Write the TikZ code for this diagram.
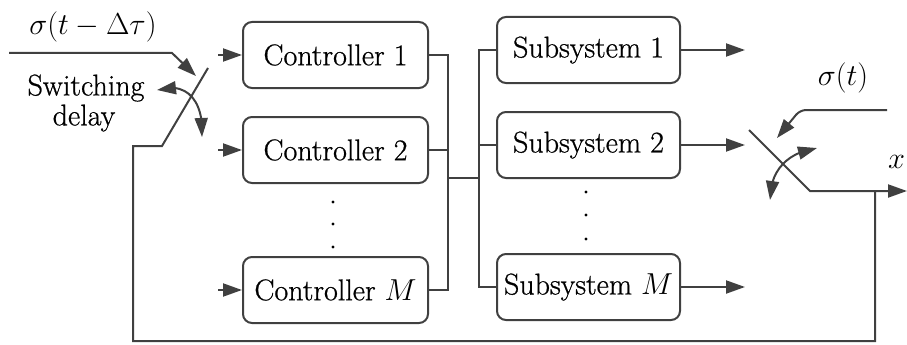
\documentclass[tikz,border=0pt]{standalone}
\usepackage{graphicx}
\usepackage{fontspec}
\setmainfont{Latin Modern Roman}[FakeBold=0.7]
\usetikzlibrary{arrows.meta,bending}
\definecolor{lc}{HTML}{404040}
\newcommand{\bigmath}[1]{\scalebox{1.22}{$#1$}}
\begin{document}
\begin{tikzpicture}[x=1pt,y=-1pt,
  blk/.style={draw=lc, line width=2pt, rounded corners=9pt, minimum width=185pt,
    minimum height=66pt, inner sep=0pt, font=\fontsize{30}{33}\selectfont},
  wire/.style={draw=lc, line width=2pt},
  arr/.style={wire, -{Triangle[length=19pt,width=13pt]}},
  darr/.style={wire, {Triangle[length=19pt,width=13pt,flex]}-{Triangle[length=19pt,width=13pt,flex]}},
  lbl/.style={inner sep=0pt, font=\fontsize{30}{33}\selectfont},
  mlbl/.style={inner sep=0pt, font=\fontsize{24.88}{28}\selectfont},
  dot/.style={fill=black, circle, inner sep=0pt, minimum size=3.4pt}]
\useasboundingbox (0,0) rectangle (907,345);

% controllers
\node[blk] (c1) at (335.5,55) {Controller 1};
\node[blk] (c2) at (335.5,150) {Controller 2};
\node[blk] (cM) at (335.5,290) {Controller \bigmath{M}};
% subsystems
\node[blk, minimum width=183pt] (s1) at (588.5,50) {Subsystem 1};
\node[blk, minimum width=183pt] (s2) at (588.5,145) {Subsystem 2};
\node[blk, minimum width=183pt] (sM) at (588.5,287) {Subsystem \bigmath{M}};

% vertical ellipses
\node[dot] (cd1) at (333,202) {};
\node[dot] (cd2) at (333,224) {};
\node[dot] (cd3) at (333,247) {};
\node[dot] (sd1) at (586,192) {};
\node[dot] (sd2) at (586,215) {};
\node[dot] (sd3) at (586,239) {};

% controller inputs
\coordinate (i1) at (218,55);
\coordinate (i2) at (218,150);
\coordinate (iM) at (218,290);
\draw[arr] (i1) -- (c1.west);
\draw[arr] (i2) -- (c2.west);
\draw[arr] (iM) -- (cM.west);

% buses between controllers and subsystems
\coordinate (bl) at (448,178);
\coordinate (br) at (479,178);
\draw[wire] (c1.east) -| (bl) |- (cM.east);
\draw[wire] (c2.east) -- (c2.east -| bl);
\draw[wire] (bl) -- (br);
\draw[wire] (s1.west) -| (br) |- (sM.west);
\draw[wire] (s2.west) -- (s2.west -| br);

% subsystem outputs
\coordinate (o1) at (745,50);
\coordinate (o2) at (745,145);
\coordinate (oM) at (745,287);
\draw[arr] (s1.east) -- (o1);
\draw[arr] (s2.east) -- (o2);
\draw[arr] (sM.east) -- (oM);

% input-side switch
\coordinate (lin) at (9,53);
\coordinate (lbend) at (172,53);
\coordinate (ltip) at (196,76);
\draw[arr] (lin) -- (lbend) -- (ltip);
\coordinate (lb1) at (208,68);
\coordinate (lb2) at (162,146);
\coordinate (fbl) at (133,146);
\coordinate (fbb) at (133,341);
\draw[darr] (157,90) .. controls (190,80) and (204,105) .. (202,137);
\node[lbl] (sw) at (86,88) {Switching};
\node[lbl] (dl) at (84,118) {delay};
\node[mlbl] (sg1) at (93,27) {\bigmath{\sigma\bigl(t-\Delta\tau\bigr)}};

% output-side switch
\coordinate (rb1) at (749,130);
\coordinate (rb2) at (810,191);
\coordinate (xout) at (907,191);
\coordinate (fbj) at (875,191);
\coordinate (fbr) at (875,341);
\draw[arr] (rb1) -- (rb2) -- (xout);
\draw[darr] (817,148) .. controls (790,152) and (770,168) .. (770,200);
\coordinate (sin) at (887,110);
\coordinate (sbend) at (800,110);
\coordinate (stip) at (777,138);
\draw[arr, rounded corners=6pt] (sin) -- (sbend) -- (stip);
\node[mlbl] (sg2) at (843,78) {\bigmath{\sigma\bigl(t\bigr)}};
\node[mlbl, anchor=west] (xl) at (888,162) {\bigmath{x}};

% feedback path
\draw[wire] (fbj) -- (fbr) -- (fbb) -- (fbl) -- (lb2) -- (lb1);
\end{tikzpicture}
\end{document}
